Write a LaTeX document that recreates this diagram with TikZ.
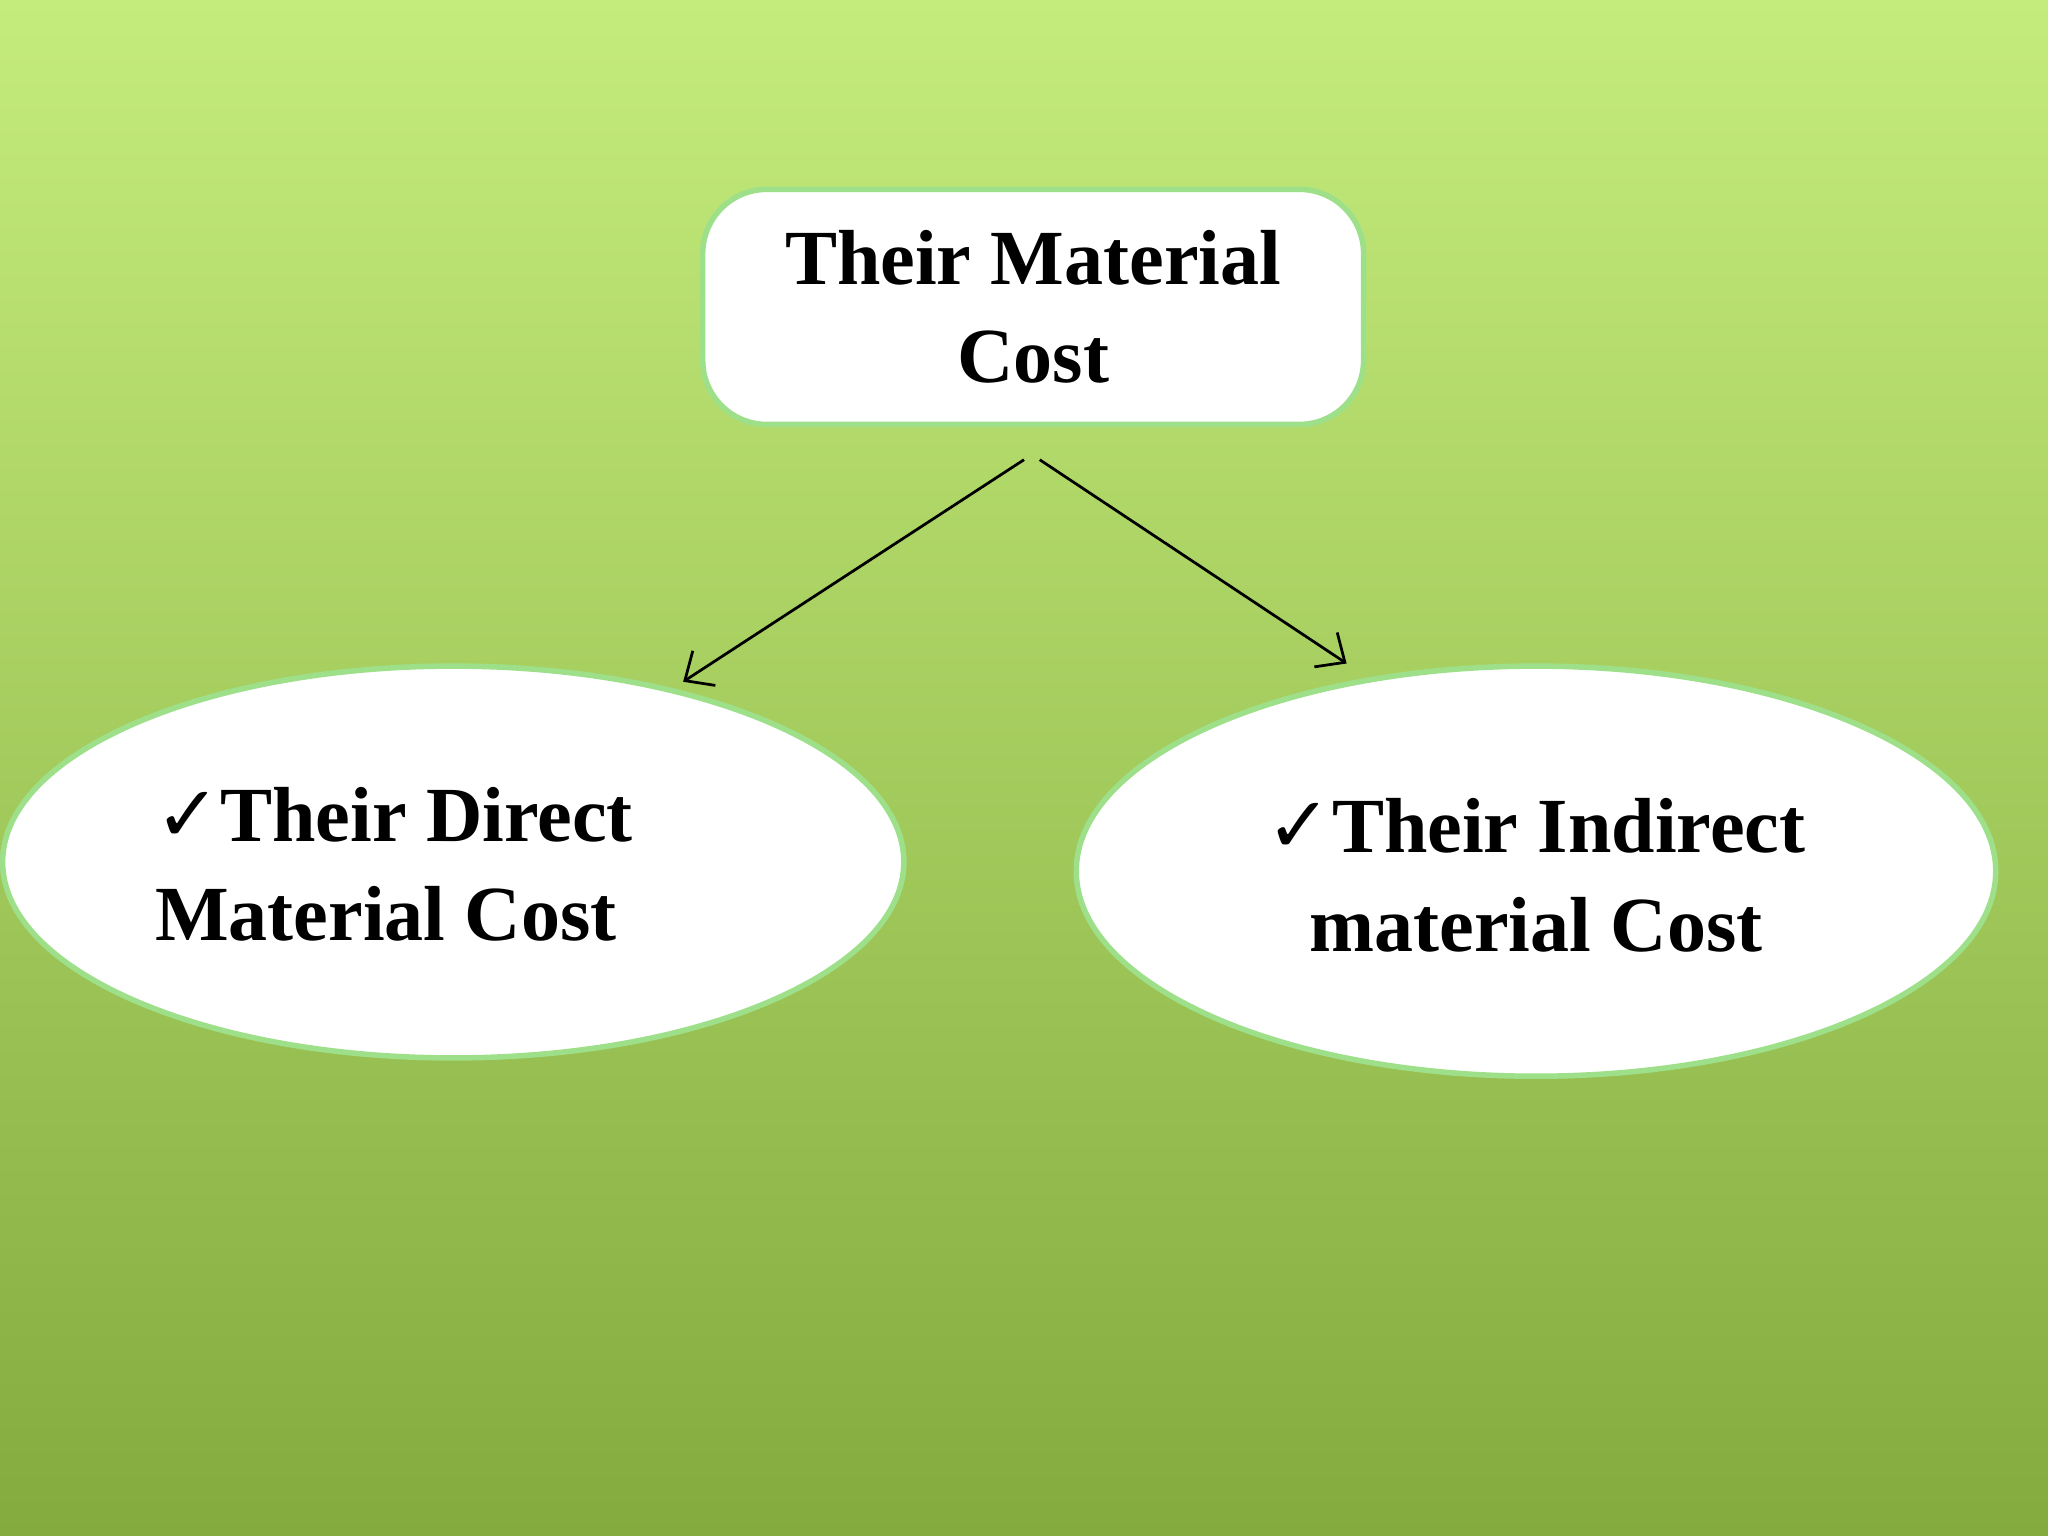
\documentclass[tikz,border=0pt]{standalone}
\usepackage{fontspec}
\setmainfont{Liberation Serif}
\newfontfamily\djv{DejaVu Sans}
\usetikzlibrary{shapes.geometric,arrows.meta}
\definecolor{bgtop}{HTML}{C4EC7C}
\definecolor{bgbot}{HTML}{84AB3E}
\definecolor{edgegreen}{HTML}{9EE08A}
\tikzset{
  txt/.style={font=\bfseries\fontsize{17}{21.5}\selectfont, text=black},
  box/.style={draw=edgegreen, line width=1.2pt, fill=white, rounded corners=14pt, minimum width=5.06cm, minimum height=1.8cm, txt, align=center},
  oval/.style={ellipse, draw=edgegreen, line width=1.2pt, fill=white, txt},
  conn/.style={-{Straight Barb[length=5pt,width=9pt]}, line width=0.6pt}
}
\newcommand{\chk}{{\djv\bfseries\fontsize{17}{17}\selectfont ✓}}
\begin{document}
\begin{tikzpicture}
\shade[top color=bgtop, bottom color=bgbot] (0,0) rectangle (15.68,11.76);
\useasboundingbox (0,0) rectangle (15.68,11.76);
\node[box] (top) at (7.91,9.41) {Their Material\\Cost};
\node[oval, minimum width=6.9cm, minimum height=3.0cm] (left) at (3.47,5.16) {};
\node[txt, anchor=west, align=left, inner sep=0pt] (lt) at (1.18,5.14) {\chk Their Direct\\Material Cost};
\node[oval, minimum width=7.04cm, minimum height=3.14cm] (right) at (11.76,5.09) {};
\node[txt, align=center] (rt) at (11.76,5.06) {\chk Their Indirect\\material Cost};
\coordinate (s1) at (7.84,8.24);
\coordinate (e1) at (5.23,6.54);
\coordinate (s2) at (7.96,8.24);
\coordinate (e2) at (10.31,6.68);
\draw[conn] (s1) -- (e1);
\draw[conn] (s2) -- (e2);
\end{tikzpicture}
\end{document}
